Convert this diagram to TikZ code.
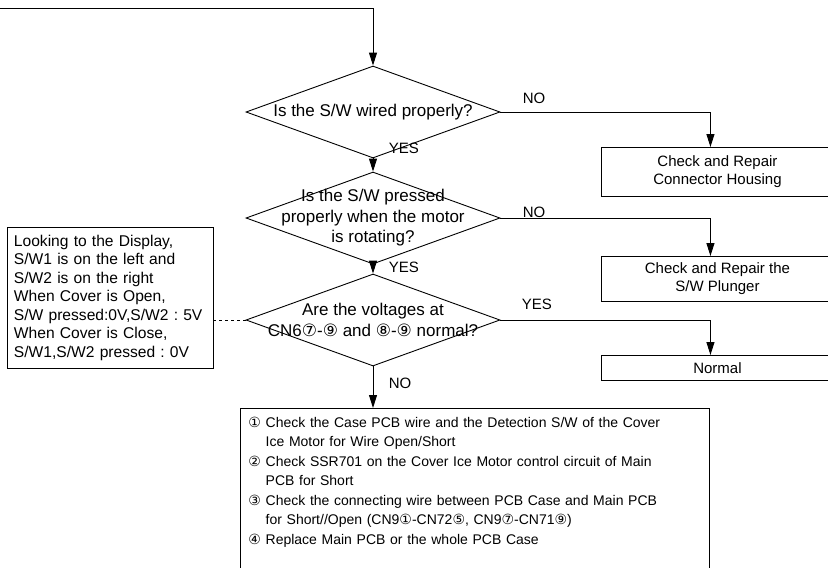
\documentclass[tikz,border=0pt]{standalone}
\usepackage{fontspec}
\setmainfont{Liberation Sans}
\newfontfamily\circfont{DejaVu Sans}
\newcommand{\cn}[1]{{\circfont #1}}
\usetikzlibrary{shapes.geometric,arrows.meta}
\frenchspacing

\begin{document}
\begin{tikzpicture}[
    x=1pt, y=-1pt,
    line width=0.9pt,
    >={Triangle[length=13pt,width=8pt]},
    every node/.style={font=\fontsize{15}{18}\selectfont},
    dia/.style={diamond,draw,inner sep=0pt,minimum width=254pt,minimum height=92pt},
    qtext/.style={align=center,font=\fontsize{17}{20.5}\selectfont},
    box/.style={rectangle,draw,anchor=north west,minimum width=232pt,align=center,inner sep=0pt},
    tag/.style={anchor=base west}
]
\useasboundingbox (0,0) rectangle (828,568);

\coordinate (in) at (0,8);

\node[dia,label={[qtext]center:Is the S/W wired properly?}] (q1) at (373,112) {};
\node[box,minimum height=49pt] (fix1) at (601,147) {Check and Repair\\Connector Housing};

\node[dia,label={[qtext]center:Is the S/W pressed\\properly when the motor\\is rotating?}] (q2) at (373,218) {};
\node[box,minimum height=45pt] (fix2) at (601,256) {Check and Repair the\\S/W Plunger};

\node[dia,label={[qtext]center:Are the voltages at\\CN6\cn{⑦}-\cn{⑨} and \cn{⑧}-\cn{⑨} normal?}] (q3) at (373,320) {};
\node[box,minimum height=25pt] (ok) at (601,355) {Normal};

\node[draw,anchor=north west,align=left,text width=193pt,inner xsep=6.5pt,
      minimum height=141pt,font=\fontsize{15.6}{18.5}\selectfont] (note) at (7,227)
  {Looking to the Display,\\S/W1 is on the left and\\S/W2 is on the right\\When Cover is Open,\\S/W pressed:0V,S/W2 : 5V\\When Cover is Close,\\S/W1,S/W2 pressed : 0V};

\node[draw,anchor=north west,align=left,inner xsep=8pt,inner ysep=5pt,text width=453pt,
      font=\fontsize{14}{19.5}\selectfont] (todo) at (240,408)
  {\begin{tabular}{@{}l@{\ }l@{}}
   \cn{①} & Check the Case PCB wire and the Detection S/W of the Cover\\
          & Ice Motor for Wire Open/Short\\
   \cn{②} & Check SSR701 on the Cover Ice Motor control circuit of Main\\
          & PCB for Short\\
   \cn{③} & Check the connecting wire between PCB Case and Main PCB\\
          & for Short//Open (CN9\cn{①}-CN72\cn{⑤}, CN9\cn{⑦}-CN71\cn{⑨})\\
   \cn{④} & Replace Main PCB or the whole PCB Case\\[30pt]
   \end{tabular}};

% connectors
\draw[->] (in) -| (q1.north);
\draw[->] (q1.east) -| ([xshift=-7pt]fix1.north);
\draw[->] (q1.south) -- (q2.north);
\draw[->] (q2.east) -| ([xshift=-7pt]fix2.north);
\draw[->] (q2.south) -- (q3.north);
\draw[->] (q3.east) -| ([xshift=-7pt]ok.north);
\draw[->] (q3.south) -- (q3.south |- todo.north);
\draw[dashed] (q3.west) -- (q3.west -| note.east);

\node[tag] (no1) at (519,103) {NO};
\node[tag] (yes1) at (385,153) {YES};
\node[tag] (no2) at (519,217) {NO};
\node[tag] (yes2) at (385,272) {YES};
\node[tag] (yes3) at (518,309) {YES};
\node[tag] (no3) at (385,388) {NO};

\end{tikzpicture}
\end{document}
